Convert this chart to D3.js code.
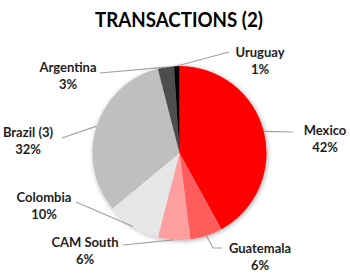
<!DOCTYPE html>
<html>
<head>
<meta charset="utf-8">
<script src="https://cdn.jsdelivr.net/npm/d3@7"></script>
<style>
  body { margin: 0; background: #fff; }
  #graf { width: 350px; height: 274px; }
  text { font-family: Lato, 'Open Sans', sans-serif; font-weight: bold; fill: #1e1e1e; }
</style>
</head>
<body>
<div id="graf"></div>
<script>
// I. Datos
paises = ['Mexico', 'Guatemala', 'CAM South', 'Colombia', 'Brazil (3)', 'Argentina', 'Uruguay']
porcentajes = [42, 6, 6, 10, 32, 3, 1]
colores = ['#ff0000', '#ff5c5c', '#ff9e9e', '#e6e6e6', '#bfbfbf', '#4d4d4d', '#000000']

// posiciones de las etiquetas (centro del texto) y final de la guía
etiquetas = {
  'Mexico':     { x: 325, y: 135, lx: 293, ly: 132 },
  'Guatemala':  { x: 260, y: 253, lx: 222, ly: 248, codo: [213, 248] },
  'CAM South':  { x: 85,  y: 247, lx: 123, ly: 245 },
  'Colombia':   { x: 44,  y: 202, lx: 76,  ly: 202 },
  'Brazil (3)': { x: 28,  y: 137, lx: 62,  ly: 138 },
  'Argentina':  { x: 68,  y: 72,  lx: 100, ly: 73 },
  'Uruguay':    { x: 260, y: 57,  lx: 229, ly: 52 }
}

// II. Configuración
ancho_total = 350
alto_total = 274
cx = 179.5
cy = 153
radio = 87

svg = d3.select('#graf').append('svg')
        .attr('width', ancho_total)
        .attr('height', alto_total)

defs = svg.append('defs')
sombra = defs.append('filter').attr('id', 'sombra')
             .attr('x', '-20%').attr('y', '-20%')
             .attr('width', '140%').attr('height', '140%')
sombra.append('feGaussianBlur').attr('in', 'SourceAlpha').attr('stdDeviation', 2.5)
sombra.append('feOffset').attr('dx', 1).attr('dy', 1).attr('result', 'b')
sombra.append('feComponentTransfer').append('feFuncA').attr('type', 'linear').attr('slope', 0.35)
mezcla = sombra.append('feMerge')
mezcla.append('feMergeNode')
mezcla.append('feMergeNode').attr('in', 'SourceGraphic')

// título
svg.append('text')
   .attr('x', 179)
   .attr('y', 27)
   .attr('text-anchor', 'middle')
   .attr('textLength', 168)
   .attr('lengthAdjust', 'spacingAndGlyphs')
   .style('font-size', '21px')
   .style('fill', '#000')
   .text('TRANSACTIONS (2)')

data = paises.map((p, i) => ({ pais: p, valor: porcentajes[i] }))

pie = d3.pie()
        .value(d => d.valor)
        .sort(null)

arco = d3.arc()
         .innerRadius(0)
         .outerRadius(radio)

color = d3.scaleOrdinal()
          .domain(paises)
          .range(colores)

g = svg.append('g')
       .attr('transform', `translate(${ cx }, ${ cy })`)

gPie = g.append('g').attr('filter', 'url(#sombra)')

gPie.selectAll('path')
    .data(pie(data))
    .enter()
    .append('path')
      .attr('d', arco)
      .attr('fill', d => color(d.data.pais))

// guías
g.selectAll('polyline')
 .data(pie(data))
 .enter()
 .append('polyline')
   .attr('fill', 'none')
   .attr('stroke', '#a0a0a0')
   .attr('stroke-width', 1.2)
   .attr('points', d => {
     let a = (d.startAngle + d.endAngle) / 2
     let e = etiquetas[d.data.pais]
     let pts = [[radio * Math.sin(a), -radio * Math.cos(a)]]
     if (e.codo) pts.push([e.codo[0] - cx, e.codo[1] - cy])
     pts.push([e.lx - cx, e.ly - cy])
     return pts.map(p => p.join(',')).join(' ')
   })

// etiquetas
lab = svg.selectAll('.lab')
         .data(data)
         .enter()
         .append('text')
           .attr('class', 'lab')
           .attr('text-anchor', 'middle')
           .style('font-size', '13px')
           .attr('x', d => etiquetas[d.pais].x)
           .attr('y', d => etiquetas[d.pais].y)

lab.append('tspan').text(d => d.pais)
lab.append('tspan')
   .attr('x', d => etiquetas[d.pais].x)
   .attr('dy', 17)
   .text(d => d.valor + '%')
</script>
</body>
</html>
